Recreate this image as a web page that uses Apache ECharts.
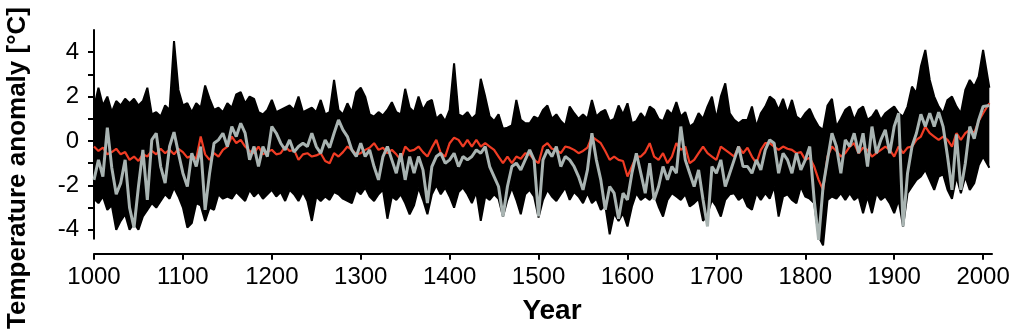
<!DOCTYPE html>
<html>
<head>
<meta charset="utf-8">
<script src="https://cdn.jsdelivr.net/npm/echarts@6.0.0/dist/echarts.min.js"></script>
<style>
  html, body { margin: 0; padding: 0; background: #fff; }
  #chart { width: 1024px; height: 334px; }
</style>
</head>
<body>
<div id="chart"></div>
<script>
// values every 5 years (1000..2000), last point ~2007
const firstYear = 1000;
const yearStep = 5;
const lastYear = 2007;

// top edge of the black bundle of reconstructions
const upperEdge = [
  1.5, 2.4, 1.6, 2.0, 1.3, 1.8, 1.6, 1.9, 1.7, 1.9,
  1.6, 1.8, 2.4, 1.2, 1.3, 1.1, 1.6, 1.4, 4.5, 2.3,
  1.6, 1.7, 1.3, 1.7, 1.5, 2.5, 1.9, 1.4, 1.5, 1.3,
  1.7, 1.5, 2.1, 2.2, 1.7, 2.0, 1.9, 1.3, 1.2, 1.4,
  1.85, 1.3, 1.4, 1.5, 1.6, 1.4, 2.0, 1.3, 1.4, 1.5,
  1.3, 1.85, 1.2, 1.3, 2.75, 1.4, 1.2, 1.7, 1.3, 2.2,
  2.4, 2.0, 1.2, 1.1, 1.3, 1.15, 1.4, 1.75, 1.3, 1.2,
  2.35, 1.5, 1.3, 2.0, 1.4, 1.75, 1.85, 1.0, 1.2, 0.9,
  1.4, 3.5, 1.2, 1.1, 1.3, 1.0, 1.2, 2.8, 2.0, 1.1,
  0.9, 1.2, 0.55, 0.6, 0.7, 1.85, 0.95, 0.8, 0.8, 1.1,
  1.0, 1.4, 1.6, 1.0, 1.2, 0.9, 0.7, 1.55, 1.25, 1.0,
  1.2, 1.0, 1.85, 1.1, 1.3, 1.4, 0.9, 1.0, 1.6, 1.2,
  1.7, 0.8, 0.9, 1.25, 1.0, 1.55, 1.4, 1.0, 0.9, 1.4,
  1.2, 1.75, 1.1, 1.3, 0.65, 0.8, 1.25, 1.0, 1.55, 2.0,
  1.0, 2.0, 2.6, 1.25, 0.95, 0.8, 0.95, 0.95, 1.55, 0.65,
  1.25, 1.55, 2.0, 1.85, 1.4, 1.9, 1.25, 1.85, 1.1, 0.95,
  1.25, 1.45, 1.0, 0.65, 0.5, 1.6, 1.9, 0.65, 1.0, 1.4,
  1.55, 0.95, 1.4, 1.55, 0.95, 1.1, 1.4, 0.95, 1.25, 1.4,
  1.55, 1.25, 1.1, 1.55, 2.45, 2.15, 3.35, 4.1, 2.75, 2.0,
  1.55, 1.25, 1.85, 2.0, 1.55, 1.25, 2.3, 2.75, 2.45, 2.9,
  4.1, 2.4
];

// bottom edge of the black bundle
const lowerEdge = [
  -2.6, -2.8, -2.5, -3.1, -2.9, -4.0, -3.6, -3.3, -4.0, -3.7,
  -4.0, -3.4, -3.1, -2.8, -3.0, -2.7, -2.4, -2.6, -2.1, -2.5,
  -3.0, -3.9, -3.7, -2.8, -2.9, -3.6, -3.0, -3.1, -2.4, -2.6,
  -2.5, -2.6, -2.3, -2.5, -2.7, -2.2, -2.5, -2.3, -2.6, -2.4,
  -2.2, -2.5, -2.3, -2.7, -2.2, -2.4, -2.7, -2.3, -2.7, -3.6,
  -2.5, -2.7, -2.5, -2.65, -2.3, -2.4, -2.6, -2.7, -2.8, -2.2,
  -2.4, -2.1, -2.5, -2.7, -2.4, -2.2, -3.5, -2.5, -2.65, -2.4,
  -2.8, -3.3, -2.9, -2.1, -2.65, -3.3, -2.4, -2.0, -2.4, -2.1,
  -2.5, -3.0, -2.3, -2.1, -2.4, -2.8, -2.3, -3.6, -2.5, -2.65,
  -2.4, -2.6, -3.4, -2.65, -2.1, -2.65, -3.3, -2.4, -2.2, -2.5,
  -3.45, -2.65, -2.2, -2.5, -2.7, -2.4, -2.1, -2.65, -2.3, -2.5,
  -2.8, -2.35, -2.8, -2.6, -3.1, -2.9, -4.2, -3.25, -3.6, -3.25,
  -3.85, -2.95, -2.35, -2.65, -2.5, -2.65, -2.4, -2.95, -3.4, -2.65,
  -2.35, -2.5, -2.65, -2.4, -2.95, -2.8, -2.6, -3.6, -3.3, -2.65,
  -2.95, -3.4, -2.65, -2.4, -2.35, -2.65, -2.5, -2.95, -3.1, -2.35,
  -2.65, -2.35, -2.6, -2.05, -3.4, -2.5, -2.4, -2.65, -2.8, -2.05,
  -2.5, -2.6, -2.8, -4.3, -4.7, -2.65, -2.5, -2.6, -2.35, -2.65,
  -2.35, -2.65, -2.5, -3.25, -2.5, -3.25, -2.35, -2.65, -2.5, -2.8,
  -3.25, -2.65, -3.85, -2.35, -2.05, -1.75, -1.6, -1.3, -1.75, -2.2,
  -1.6, -1.5, -2.2, -2.6, -1.6, -2.35, -1.6, -2.2, -1.9, -1.1,
  -0.7, -1.2
];

// grey reconstruction
const greySeries = [
  -1.75, -0.85, -1.6, 0.6, -1.2, -2.4, -1.9, -0.85, -3.0, -3.9,
  -2.05, -0.4, -2.65, 0.05, 0.35, -1.15, -1.9, -0.25, 0.4, -0.55,
  -1.45, -2.05, -0.55, -1.15, -0.25, -3.1, -1.45, -0.1, 0.05, 0.35,
  -0.25, 0.65, 0.2, 0.8, 0.35, -0.85, -0.25, -1.15, -0.25, -0.7,
  0.65, 0.35, -0.1, -0.4, 0.05, -0.5, -0.25, -0.1, -0.25, 0.35,
  -0.25, -0.55, 0.05, -0.3, 0.35, 0.95, 0.5, 0.2, -0.4, -0.7,
  -0.1, -0.7, -0.4, -1.15, -1.75, -0.7, -0.25, -0.85, -1.45, -0.55,
  -1.75, -0.7, -1.45, -0.7, -1.3, -2.8, -1.15, -0.7, -0.55, -1.0,
  -0.85, -0.55, -1.15, -0.7, -0.85, -0.7, -0.4, -0.55, -0.25, -1.15,
  -1.6, -2.05, -3.4, -2.05, -1.15, -1.0, -1.3, -0.85, -0.4, -0.85,
  -3.4, -0.85, -0.4, -0.7, -0.25, -1.15, -0.7, -0.85, -1.15, -1.6,
  -2.2, -1.3, 0.35, -0.85, -1.75, -3.1, -2.05, -2.35, -3.5, -2.35,
  -2.65, -1.45, -0.55, -1.45, -2.35, -1.0, -2.65, -2.05, -1.15, -1.75,
  -1.15, -1.45, 0.65, -0.85, -1.45, -2.05, -1.3, -2.65, -3.85, -1.15,
  -1.45, -0.85, -2.05, -1.45, -0.85, -0.25, -1.15, -1.15, -1.45, -0.85,
  -1.3, -0.4, 0.05, -0.1, -1.45, -0.55, -0.85, -1.45, -0.55, -1.3,
  -0.85, -0.25, -2.65, -4.45, -2.05, -0.85, 0.35, -0.25, -1.45, 0.05,
  -0.25, 0.35, -0.55, 0.35, -1.15, 0.65, -0.55, 0.05, 0.5, -0.55,
  0.65, 1.25, -3.85, -1.45, -0.25, 0.35, 1.2, 0.65, 1.25, 0.65,
  1.3, 0.65, -0.7, -2.2, 0.3, -2.2, -1.0, 0.65, 0.1, 0.95,
  1.55, 1.6
];

// red reconstruction
const redSeries = [
  -0.25, -0.45, -0.3, -0.6, -0.5, -0.35, -0.6, -0.5, -0.85, -0.7,
  -0.9, -0.6, -0.7, -0.45, -0.6, -0.35, -0.55, -0.4, -0.6, -0.35,
  -0.5, -0.75, -0.65, -0.8, 0.2, -0.6, -0.85, -0.55, -0.7, -0.4,
  -0.25, 0.2, -0.1, 0.05, -0.25, -0.45, -0.55, -0.25, -0.6, -0.5,
  -0.4, -0.6, -0.55, -0.25, -0.45, -0.4, -0.85, -0.6, -0.55, -0.7,
  -0.65, -0.55, -0.9, -1.0, -0.55, -0.7, -0.5, -0.25, -0.4, -0.6,
  -0.55, -0.4, -0.3, -0.1, -0.4, -0.3, -0.55, -0.4, -0.6, -0.85,
  -0.25, -0.45, -0.4, -0.25, -0.5, -0.7, -0.3, 0.05, -0.55, -0.7,
  -0.1, 0.15, 0.05, -0.25, 0.05, -0.25, 0.05, -0.25, -0.1, -0.25,
  -0.4, -0.7, -1.0, -0.7, -1.0, -0.7, -0.8, -0.55, -0.6, -0.85,
  -1.0, -0.25, -0.1, -0.35, -0.4, -0.55, -0.25, -0.3, -0.4, -0.55,
  -0.45, -0.3, 0.2, 0.05, -0.1, -0.45, -0.85, -0.7, -0.85, -0.9,
  -1.6, -1.15, -0.7, -0.7, -0.5, -0.1, -0.7, -0.85, -0.55, -1.0,
  -0.7, -0.1, -0.4, -0.25, -1.0, -0.85, -0.55, -0.25, -0.55, -0.7,
  -0.85, -0.25, -0.4, -0.55, -0.7, -0.25, -0.55, -0.3, -0.7, -1.0,
  -0.4, -0.1, -0.1, -0.25, -0.4, -0.25, -0.35, -0.4, -0.55, -0.5,
  -0.85, -0.75, -1.15, -1.75, -2.2, -0.7, -0.25, -0.45, -0.7, -0.55,
  -0.25, -0.1, -0.55, -0.3, -0.4, -0.7, -0.55, -0.4, -0.25, -0.4,
  -0.7, -0.25, -0.55, -0.3, -0.25, 0.05, 0.2, 0.65, 0.35, 0.2,
  0.05, 0.2, 0.05, -0.25, 0.35, 0.05, 0.35, 0.5, 0.35, 0.9,
  1.25, 1.7
];

const xTickValues = [1000, 1100, 1200, 1300, 1400, 1500, 1600, 1700, 1800, 1900, 2000];
const yTickValues = [-4, -3, -2, -1, 0, 1, 2, 3, 4];
const yLabelValues = [-4, -2, 0, 2, 4];

const years = upperEdge.map((v, i) => (i === upperEdge.length - 1 ? lastYear : firstYear + i * yearStep));
const toPairs = arr => arr.map((v, i) => [years[i], v]);

const font = '"Liberation Sans", Arial, Helvetica, sans-serif';

const chart = echarts.init(document.getElementById('chart'));

// both edges are filled towards 0, which together gives the solid black band
const edgeSeries = (name, values) => ({
  name: name,
  type: 'line',
  data: toPairs(values),
  symbol: 'none',
  clip: false,
  silent: true,
  lineStyle: { color: '#000', width: 2 },
  areaStyle: { color: '#000', opacity: 1 },
  z: 2
});

chart.setOption({
  animation: false,
  backgroundColor: '#fff',
  grid: {
    left: 94,
    right: 32,
    top: 30,
    bottom: 95.32,
    outerBoundsMode: 'none'
  },
  xAxis: {
    type: 'value',
    min: 1000,
    max: 2010,
    offset: 15,
    name: 'Year',
    nameLocation: 'middle',
    nameGap: 44,
    nameTextStyle: {
      fontFamily: font,
      fontSize: 28,
      fontWeight: 'bold',
      color: '#000',
      padding: [0, 0, 0, 18]
    },
    axisLine: { onZero: false, lineStyle: { color: '#000', width: 2 } },
    axisTick: { length: 6, customValues: xTickValues, lineStyle: { color: '#000', width: 2 } },
    axisLabel: {
      customValues: xTickValues,
      formatter: v => String(v),
      margin: 12,
      fontFamily: font,
      fontSize: 24,
      color: '#000'
    },
    splitLine: { show: false }
  },
  yAxis: {
    type: 'value',
    min: -4.4,
    max: 5,
    axisLine: { show: true, lineStyle: { color: '#000', width: 2 } },
    axisTick: { show: true, length: 6, customValues: yTickValues, lineStyle: { color: '#000', width: 2 } },
    axisLabel: { customValues: yLabelValues, margin: 15, fontFamily: font, fontSize: 24, color: '#000' },
    splitLine: { show: false }
  },
  graphic: [
    {
      type: 'text',
      x: 18,
      y: 168,
      rotation: Math.PI / 2,
      style: {
        text: 'Temperature anomaly [°C]',
        font: 'bold 26px ' + font,
        fill: '#000',
        align: 'center',
        verticalAlign: 'middle'
      }
    }
  ],
  series: [
    edgeSeries('upper', upperEdge),
    edgeSeries('lower', lowerEdge),
    {
      name: 'red',
      type: 'line',
      data: toPairs(redSeries),
      symbol: 'none',
      clip: false,
      silent: true,
      lineStyle: { color: '#f03c24', width: 2.2 },
      z: 3
    },
    {
      name: 'grey',
      type: 'line',
      data: toPairs(greySeries),
      symbol: 'none',
      clip: false,
      silent: true,
      lineStyle: { color: '#a9b4b2', width: 3 },
      z: 4
    }
  ]
});
</script>
</body>
</html>
